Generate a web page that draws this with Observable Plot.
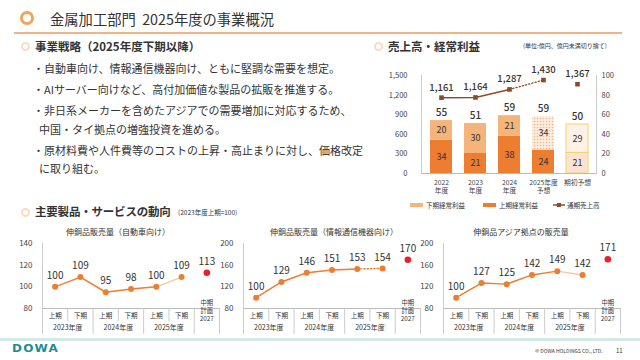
<!DOCTYPE html>
<html><head><meta charset="utf-8">
<script src="https://cdn.jsdelivr.net/npm/d3@7"></script>
<script src="https://cdn.jsdelivr.net/npm/@observablehq/plot@0.6"></script>
<style>
  html,body{margin:0;padding:0;background:#fff;}
  body{width:640px;height:360px;position:relative;overflow:hidden;font-family:"Noto Sans CJK JP","Noto Sans",sans-serif;color:#333;}
  .abs{position:absolute;white-space:nowrap;}
  .ring{position:absolute;border-radius:50%;box-sizing:border-box;}
  .h2{font-weight:700;font-size:11.5px;}
  .bul{font-size:11px;line-height:14px;}
  .ct{font-size:8px;transform:translateX(-50%);}
  .lg{font-size:6.5px;display:flex;align-items:center;}
  .sw{display:inline-block;width:13px;height:4px;margin-right:3px;}
  svg{position:absolute;overflow:visible;}
</style></head>
<body>
<div class="ring" style="left:20px;top:11px;width:14px;height:14px;border:3px solid #F2A35E;"></div>
<div class="abs" style="left:50px;top:8px;font-size:14.3px;">金属加工部門&nbsp;&nbsp;2025年度の事業概況</div>
<div class="abs" style="left:14px;top:32px;width:608px;height:1.5px;background:#F4B183;"></div>

<div class="ring" style="left:21px;top:42px;width:9px;height:9px;border:2.5px solid #FBDCC0;"></div>
<div class="abs h2" style="left:35px;top:38px;">事業戦略（2025年度下期以降）</div>
<div class="abs bul" style="left:33px;top:61px;">・自動車向け、情報通信機器向け、ともに堅調な需要を想定。</div>
<div class="abs bul" style="left:33px;top:82px;">・AIサーバー向けなど、高付加価値な製品の拡販を推進する。</div>
<div class="abs bul" style="left:33px;top:103px;">・非日系メーカーを含めたアジアでの需要増加に対応するため、</div>
<div class="abs bul" style="left:39px;top:122px;">中国・タイ拠点の増強投資を進める。</div>
<div class="abs bul" style="left:33px;top:143px;">・原材料費や人件費等のコストの上昇・高止まりに対し、価格改定</div>
<div class="abs bul" style="left:39px;top:161px;">に取り組む。</div>

<div class="ring" style="left:21px;top:208px;width:9px;height:9px;border:2.5px solid #FBDCC0;"></div>
<div class="abs h2" style="left:35px;top:203px;letter-spacing:-0.2px;">主要製品・サービスの動向</div>
<div class="abs" style="left:178px;top:207px;font-size:6.5px;">(2023年度上期=100)</div>

<div class="ring" style="left:374px;top:42px;width:9px;height:9px;border:2.5px solid #FBDCC0;"></div>
<div class="abs h2" style="left:388px;top:38px;">売上高・経常利益</div>
<div class="abs" style="left:523px;top:41px;font-size:6px;">(単位:億円、億円未満切り捨て)</div>

<div class="abs lg" style="left:410px;top:200px;"><span class="sw" style="background:#F5B47A"></span>下期経常利益</div>
<div class="abs lg" style="left:483px;top:200px;"><span class="sw" style="background:#ED7D31"></span>上期経常利益</div>
<div class="abs lg" style="left:553px;top:200px;"><svg width="12" height="6" style="position:relative;margin-right:2px"><line x1="0" y1="3" x2="12" y2="3" stroke="#8B4A2B" stroke-width="1.5"/><rect x="4" y="1" width="4" height="4" fill="#8B4A2B"/></svg>通期売上高</div>

<div class="abs ct" style="left:118px;top:226px;">伸銅品販売量（自動車向け）</div>
<div class="abs ct" style="left:334px;top:226px;">伸銅品販売量（情報通信機器向け）</div>
<div class="abs ct" style="left:521px;top:226px;">伸銅品アジア拠点の販売量</div>

<div class="abs" style="left:0;top:338px;width:640px;height:2.5px;background:#D3E9E8;"></div>
<div class="abs" style="left:12px;top:343px;font-size:10px;font-weight:900;color:#1E8C90;letter-spacing:1px;font-family:'DejaVu Sans';transform:scaleX(1.2);transform-origin:left;">DOWA</div>
<div class="abs" style="left:535px;top:347px;font-size:5px;">© DOWA HOLDINGS CO., LTD.</div>
<div class="abs" style="left:616px;top:346px;font-size:6px;">11</div>

<div id="charts"></div>
<script>
// ---- Data: sales & ordinary profit ----
const fyLabels = ["2022\n年度", "2023\n年度", "2024\n年度", "2025年度\n予想", "期初予想"];
const sales = [1161, 1164, 1287, 1430, 1367];
const profit1H = [34, 21, 38, 24, 21];
const profit2H = [20, 30, 21, 34, 29];
const profitTotal = [55, 51, 59, 59, 50];
const salesMax = 1500, profitMax = 100;

// ---- Data: trend charts ----
const periods = ["上期", "下期", "上期", "下期", "上期", "下期"];
const planLabel = "中期\n計画\n2027";
const fiscalYears = ["2023年度", "2024年度", "2025年度"];
const autoVals = [100, 109, 95, 98, 100, 109];
const autoPlan = 113;
const ictVals = [100, 129, 146, 151, 153, 154];
const ictPlan = 170;
const asiaVals = [100, 127, 125, 142, 149, 142];
const asiaPlan = 171;

const FONT = "Noto Sans CJK JP";
const ORANGE = "#ED7D31", LIGHT = "#F5B47A", BROWN = "#8B4A2B";
const root = document.getElementById("charts");

function place(svg, left, top) {
  svg.style.left = left + "px"; svg.style.top = top + "px";
  root.appendChild(svg);
}

// ---- Bar + line (dual axis) ----
const ratio = salesMax / profitMax;
const rows = fyLabels.flatMap((c, i) => [
  {cat: c, i, half: "上期", v: profit1H[i]},
  {cat: c, i, half: "下期", v: profit2H[i]}
]);
const nActual = 3, iForecast = 3, iInitial = 4;
function fillOf(d) {
  if (d.i === iInitial) return d.half === "上期" ? "#FBE2D2" : "#FEF2E6";
  if (d.i === iForecast && d.half === "下期") return "url(#dotfill)";
  return d.half === "上期" ? ORANGE : LIGHT;
}
const xOf = (d, i) => fyLabels[i];
const bar = Plot.plot({
  width: 250, height: 140, marginLeft: 41, marginRight: 34, marginTop: 15, marginBottom: 27,
  style: {fontFamily: FONT, color: "#444", background: "transparent"},
  x: {domain: fyLabels, paddingInner: 0.36, paddingOuter: 0.23},
  y: {domain: [0, profitMax]},
  marks: [
    Plot.barY(rows, Plot.stackY({x: "cat", y: "v", fill: fillOf})),
    Plot.barY(rows, Plot.stackY({x: "cat", y: "v", filter: d => d.i === iInitial, fill: "none", stroke: "#F0D36A", strokeWidth: 1})),
    Plot.text(rows, Plot.stackY({x: "cat", y: "v", text: "v", fontSize: 9, fill: "#333"})),
    Plot.text(profitTotal, {x: xOf, y: (d, i) => profit1H[i] + profit2H[i], text: d => d, dy: -8, fontSize: 10, fontWeight: 500, fill: "#333"}),
    Plot.ruleY([0], {stroke: "#bbb"}),
    Plot.frame({anchor: "left", stroke: "#ccc"}),
    Plot.frame({anchor: "right", stroke: "#ccc"}),
    Plot.axisY({anchor: "left", ticks: [0, 20, 40, 60, 80, 100], tickSize: 0, tickPadding: 14, fontSize: 7.5, label: null,
      tickFormat: d => d3.format(",")(d * ratio)}),
    Plot.axisY({anchor: "right", ticks: [0, 20, 40, 60, 80, 100], tickSize: 0, tickPadding: 5, fontSize: 7.5, label: null}),
    Plot.axisX({tickSize: 0, tickPadding: 5, fontSize: 6.8, lineHeight: 1.25, label: null}),
    Plot.line(sales.slice(0, nActual), {x: xOf, y: d => d / ratio, stroke: BROWN, strokeWidth: 1.5}),
    Plot.line(sales.slice(nActual - 1, iForecast + 1), {x: (d, i) => fyLabels[i + nActual - 1], y: d => d / ratio, stroke: BROWN, strokeWidth: 1.3, strokeDasharray: "1.3,2"}),
    Plot.dot(sales, {x: xOf, y: d => d / ratio, symbol: "square", fill: BROWN, r: 2.6}),
    Plot.text(sales, {x: xOf, y: d => d / ratio, text: d => d3.format(",")(d), dy: -10, fontSize: 9.5, fontWeight: 500, fill: "#333"})
  ]
});
bar.insertAdjacentHTML("afterbegin",
  '<defs><pattern id="dotfill" width="3" height="3" patternUnits="userSpaceOnUse"><rect width="3" height="3" fill="#FDEEE2"/><circle cx="1.5" cy="1.5" r="0.8" fill="#F2B784"/></pattern></defs>');
place(bar, 380, 60);

// ---- Trend charts ----
function trend(vals, plan, domain, ticks, lastStyle, left, width, marginLeft) {
  const n = vals.length;
  const xi = (d, i) => i;
  const last = vals.slice(n - 2);
  const lastOpts = lastStyle === "dotted"
    ? {stroke: ORANGE, strokeWidth: 1.4, strokeDasharray: "1.3,2"}
    : {stroke: "#F7C9A3", strokeWidth: 1.5};
  const H = 100, mt = 7, mb = 28, plotH = H - mt - mb;
  const svg = Plot.plot({
    width, height: H, marginLeft, marginRight: 5, marginTop: mt, marginBottom: mb,
    style: {fontFamily: FONT, color: "#444", background: "transparent"},
    x: {domain: [-0.5, n + 0.5], axis: null},
    y: {domain},
    marks: [
      Plot.ruleY([domain[0]], {stroke: "#bbb"}),
      Plot.ruleX([-0.5], {stroke: "#ccc", insetBottom: -26}),
      Plot.ruleX(d3.range(0.5, n, 2), {stroke: "#ccc", insetTop: plotH, insetBottom: -13}),
      Plot.ruleX(d3.range(1.5, n + 1, 2).concat([n + 0.5]), {stroke: "#ccc", insetTop: plotH, insetBottom: -26}),
      Plot.axisY({ticks, tickSize: 0, tickPadding: 10, fontSize: 8, label: null}),
      Plot.line(vals.slice(0, n - 1), {x: xi, y: d => d, stroke: ORANGE, strokeWidth: 1.5}),
      Plot.line(last, {x: (d, i) => i + n - 2, y: d => d, ...lastOpts}),
      Plot.dot(vals, {x: xi, y: d => d, fill: ORANGE, r: 3}),
      Plot.dot([plan], {x: () => n, y: d => d, fill: "#E8202A", r: 3.3}),
      Plot.text(vals, {x: xi, y: d => d, text: d => d, dy: -11, fontSize: 10, fill: "#333"}),
      Plot.text([plan], {x: () => n, y: d => d, text: d => d, dy: -11, fontSize: 10, fill: "#333"}),
      Plot.text(periods, {x: xi, frameAnchor: "bottom", dy: 9, fontSize: 6.5, fill: "#333"}),
      Plot.text([planLabel], {x: () => n, frameAnchor: "bottom", dy: 12, fontSize: 6.3, lineHeight: 1.2, fill: "#333"}),
      Plot.text(fiscalYears, {x: (d, i) => 2 * i + 0.5, frameAnchor: "bottom", dy: 21, fontSize: 7, fill: "#333"})
    ]
  });
  place(svg, left, 236);
}
trend(autoVals, autoPlan, [80, 140], [80, 100, 120, 140], "light", 0, 224, 42);
trend(ictVals, ictPlan, [80, 200], [80, 120, 160, 200], "dotted", 210, 215, 33);
trend(asiaVals, asiaPlan, [80, 200], [80, 120, 160, 200], "light", 420, 205, 23);
</script>
</body></html>
